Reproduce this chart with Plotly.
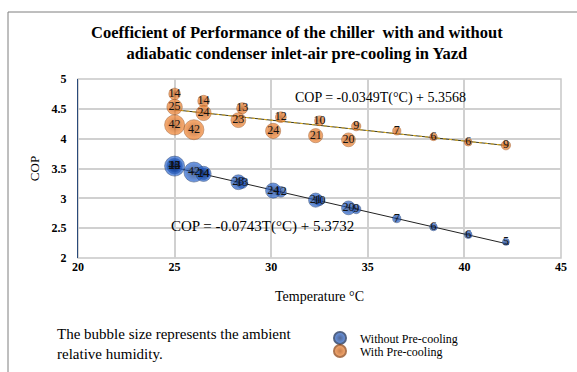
import plotly.graph_objects as go

# ---- data ----
t_with = [25.0, 25.0, 25.0, 26.0, 26.5, 26.5, 28.5, 28.3, 30.5, 30.1, 32.5, 32.3, 34.4, 34.0, 36.5, 38.4, 40.2, 42.15]
cop_with = [4.75, 4.53, 4.23, 4.15, 4.63, 4.43, 4.51, 4.31, 4.36, 4.13, 4.30, 4.05, 4.21, 3.98, 4.13, 4.03, 3.94, 3.89]
rh_with = [14, 25, 42, 42, 14, 24, 13, 23, 12, 24, 10, 21, 9, 20, 7, 6, 6, 9]

t_without = [25.0, 25.0, 25.0, 26.0, 26.5, 26.5, 28.5, 28.3, 30.5, 30.1, 32.5, 32.3, 34.4, 34.0, 36.5, 38.4, 40.2, 42.15]
cop_without = [3.54, 3.54, 3.54, 3.44, 3.41, 3.41, 3.26, 3.27, 3.11, 3.13, 2.96, 2.97, 2.82, 2.84, 2.66, 2.52, 2.39, 2.27]
rh_without = [14, 25, 42, 42, 14, 24, 13, 23, 12, 24, 10, 21, 9, 20, 7, 6, 6, 5]

# trendline coefficients (from the equations in the chart)
fit_with = (-0.0349, 5.3568)
fit_without = (-0.0743, 5.3732)
trend_range = (25.0, 42.3)

x_ticks = [20, 25, 30, 35, 40, 45]
y_ticks = [2, 2.5, 3, 3.5, 4, 4.5, 5]

SERIF = "Liberation Serif"
W, H = 577, 372
L, R, T, B = 78, 16, 79, 114
PW, PH = W - L - R, H - T - B


def px(xp):
    return (xp - L) / PW


def py(yp):
    return (H - B - yp) / PH


sizeref = max(rh_with) / (20.0 ** 2) * 2

fig = go.Figure()

# trendlines
xs = list(trend_range)
fig.add_trace(go.Scatter(x=xs, y=[fit_without[0] * x + fit_without[1] for x in xs], mode="lines",
                         line=dict(color="#222222", width=1), showlegend=False, hoverinfo="skip"))
fig.add_trace(go.Scatter(x=xs, y=[fit_with[0] * x + fit_with[1] for x in xs], mode="lines",
                         line=dict(color="#3a3a22", width=1), showlegend=False, hoverinfo="skip"))
fig.add_trace(go.Scatter(x=xs, y=[fit_with[0] * x + fit_with[1] for x in xs], mode="lines",
                         line=dict(color="#e0b020", width=1, dash="3px,3px"),
                         showlegend=False, hoverinfo="skip"))

fig.add_trace(go.Scatter(
    x=t_without, y=cop_without, mode="markers+text", name="Without Pre-cooling", legend="legend",
    text=[str(v) for v in rh_without], textposition="middle center",
    textfont=dict(family=SERIF, size=12, color="#111111"),
    marker=dict(size=rh_without, sizemode="area", sizeref=sizeref, color="#2e6fe0",
                gradient=dict(type="radial", color="#0a2868"),
                line=dict(color="#08214f", width=0.6)),
))
fig.add_trace(go.Scatter(
    x=t_with, y=cop_with, mode="markers+text", name="With Pre-cooling", legend="legend2",
    text=[str(v) for v in rh_with], textposition="middle center",
    textfont=dict(family=SERIF, size=12, color="#111111"),
    marker=dict(size=rh_with, sizemode="area", sizeref=sizeref, color="#f88a36",
                gradient=dict(type="radial", color="#b04a04"),
                line=dict(color="#8a3a04", width=0.6)),
))

leg_common = dict(xanchor="left", yanchor="middle", bgcolor="rgba(0,0,0,0)",
                  font=dict(family=SERIF, size=12), itemsizing="constant", itemwidth=30)

fig.update_layout(
    width=W, height=H, margin=dict(l=L, r=R, t=T, b=B, autoexpand=False),
    paper_bgcolor="white", plot_bgcolor="white",
    font=dict(family=SERIF, color="#000000"),
    xaxis=dict(range=[20, 45], tickvals=x_ticks, showgrid=True, gridcolor="#d0d0d0", gridwidth=1.5,
               zeroline=False, showline=False, ticks="",
               tickfont=dict(family=SERIF, size=12, color="#000", weight="bold"),
               title=dict(text="Temperature °C", font=dict(family=SERIF, size=14), standoff=18)),
    yaxis=dict(range=[2, 5], tickvals=y_ticks, ticktext=[("%g" % v) for v in y_ticks],
               showgrid=True, gridcolor="#d0d0d0", gridwidth=1.5,
               zeroline=False, showline=True, linecolor="#2a4a7a", linewidth=1.2, ticks="",
               ticklabelstandoff=8,
               tickfont=dict(family=SERIF, size=12, color="#000", weight="bold"),
               title=dict(text="COP", font=dict(family=SERIF, size=13), standoff=8)),
    legend=dict(x=px(320), y=py(338), **leg_common),
    legend2=dict(x=px(320), y=py(351), **leg_common),
    showlegend=True,
)

shapes = [
    dict(type="rect", xref="paper", yref="paper", x0=0, x1=1, y0=0, y1=1,
         line=dict(color="#c8c8c8", width=1.5), layer="below"),
    dict(type="line", xref="paper", yref="paper", x0=px(8), x1=px(8), y0=py(12), y1=py(H + 5),
         line=dict(color="#7f7f7f", width=1)),
    dict(type="line", xref="paper", yref="paper", x0=px(8), x1=px(W + 5), y0=py(12), y1=py(12),
         line=dict(color="#7f7f7f", width=1)),
]
fig.update_layout(shapes=shapes)

annotations = [
    dict(text="<b>Coefficient of Performance of the chiller  with and without<br>adiabatic condenser inlet-air pre-cooling in Yazd</b>",
         xref="paper", yref="paper", x=px(297), y=py(43), xanchor="center", yanchor="middle",
         showarrow=False, font=dict(family=SERIF, size=16.5)),
    dict(text="COP = -0.0349T(°C) + 5.3568", xref="paper", yref="paper", x=px(293), y=py(98),
         xanchor="left", yanchor="middle", showarrow=False, font=dict(family=SERIF, size=14)),
    dict(text="COP = -0.0743T(°C) + 5.3732", xref="paper", yref="paper", x=px(169), y=py(226),
         xanchor="left", yanchor="middle", showarrow=False, font=dict(family=SERIF, size=15)),
    dict(text="The bubble size represents the ambient<br>relative humidity.", xref="paper", yref="paper",
         x=px(55), y=py(344), xanchor="left", yanchor="middle", align="left", showarrow=False,
         font=dict(family=SERIF, size=15)),
]
fig.update_layout(annotations=annotations)

fig.write_html("out.html", post_script="document.body.style.margin='0';",
               config={"displayModeBar": False})
